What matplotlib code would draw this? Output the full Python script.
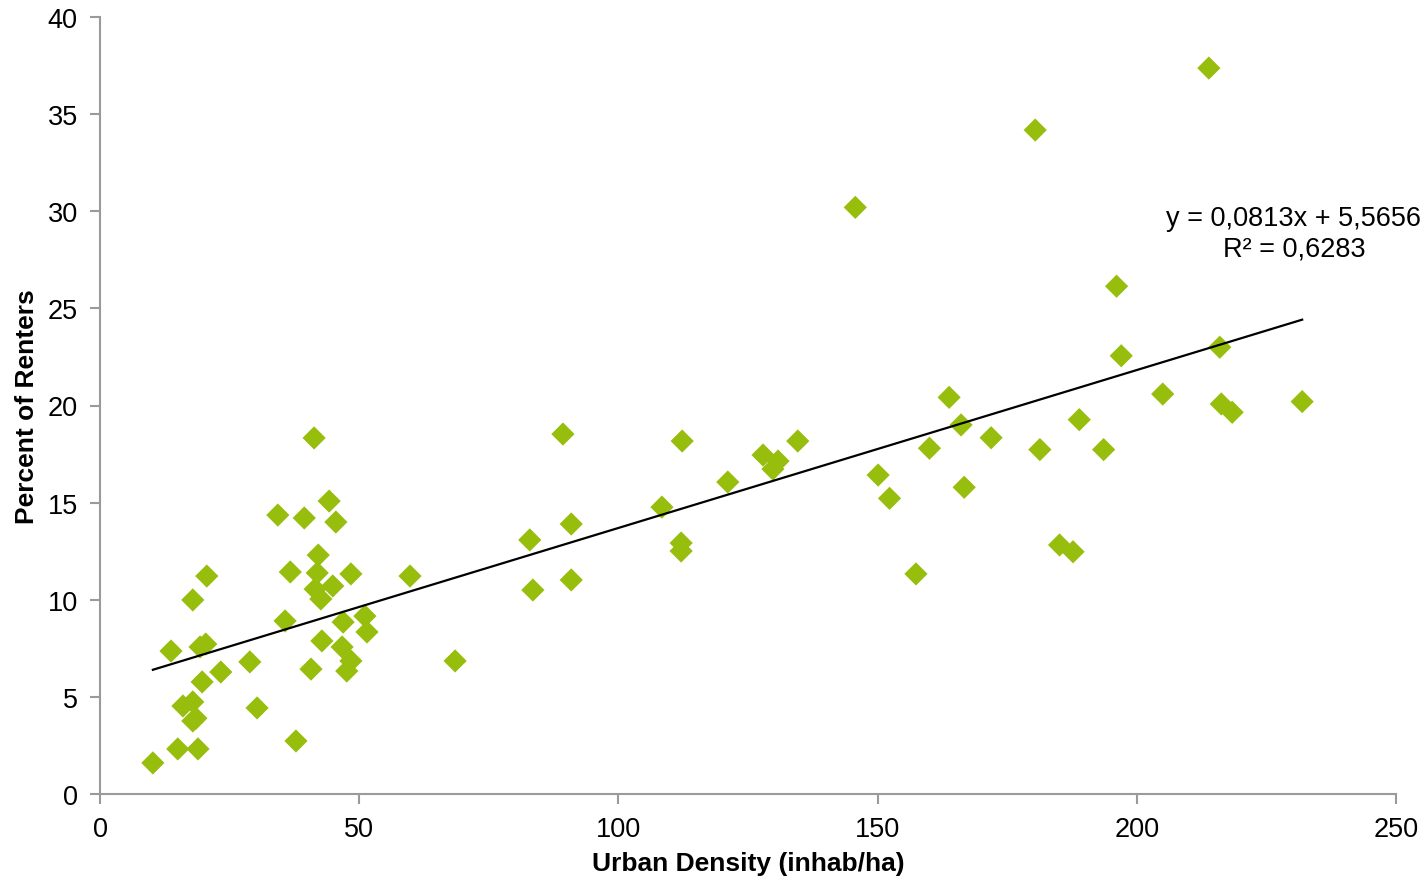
import matplotlib
matplotlib.use("Agg")
import matplotlib.pyplot as plt
import numpy as np

plt.rcParams['font.family'] = ['Liberation Sans', 'DejaVu Sans']

density = [10.2, 13.7, 15.0, 18.9, 16.0, 17.9, 17.9, 18.5, 17.9, 20.6, 19.7, 23.3,
           19.3, 20.4, 28.9, 30.3, 37.8, 35.7, 34.3, 39.4, 41.3, 44.2, 45.5, 42.1,
           36.7, 41.9, 48.4, 41.5, 44.9, 42.6, 46.9, 51.1, 51.5, 42.8, 46.7, 48.4,
           47.6, 40.7,
           59.8, 68.5, 82.9, 83.5, 89.3, 90.9, 90.9, 108.4, 112.3, 112.1, 112.1,
           121.1, 127.9, 130.8, 129.8, 134.6,
           145.7, 150.1, 152.3, 157.4, 160.0, 163.8, 166.1, 166.7, 171.9, 181.3,
           185.1, 187.7, 188.9, 193.6, 196.1, 197.0, 205.0, 216.0, 216.3, 218.4,
           231.9, 180.4, 213.9]
renters = [1.60, 7.36, 2.32, 2.32, 4.53, 4.74, 3.76, 3.90, 9.99, 11.22, 5.77, 6.28,
           7.57, 7.72, 6.80, 4.43, 2.73, 8.91, 14.36, 14.21, 18.33, 15.08, 14.00, 12.30,
           11.43, 11.38, 11.33, 10.55, 10.71, 10.04, 8.85, 9.16, 8.34, 7.88, 7.57, 6.85,
           6.33, 6.43,
           11.22, 6.85, 13.08, 10.50, 18.53, 13.90, 11.02, 14.77, 18.17, 12.92, 12.51,
           16.06, 17.45, 17.14, 16.73, 18.17,
           30.20, 16.42, 15.22, 11.33, 17.80, 20.42, 19.00, 15.79, 18.34, 17.73,
           12.82, 12.47, 19.27, 17.73, 26.14, 22.56, 20.59, 23.00, 20.08, 19.65,
           20.20, 34.18, 37.37]

slope = 0.0813
intercept = 5.5656
r2_label = "R² = 0,6283"
eq_label = "y = 0,0813x + 5,5656"

fig = plt.figure(figsize=(14.24, 8.79), dpi=100)
ax = fig.add_axes([100/1424, 1 - 795/879, (1396-100)/1424, (795-18)/879])

ax.scatter(density, renters, marker='D', s=140, color='#97BE0D', edgecolors='none', zorder=3)

xmin, xmax = min(density), max(density)
xs = np.array([xmin, xmax])
ax.plot(xs, slope * xs + intercept, color='black', lw=1.6, zorder=4)

ax.text(230.3, 30.3, eq_label + "\n" + r2_label, fontsize=19.5, ha='center', va='top',
        linespacing=1.2, zorder=5)

ax.set_xlim(0, 250)
ax.set_ylim(0, 40)
ax.set_xticks(np.arange(0, 251, 50))
ax.set_yticks(np.arange(0, 41, 5))

for s in ['top', 'right']:
    ax.spines[s].set_visible(False)
for s in ['left', 'bottom']:
    ax.spines[s].set_color('#9a9a9a')
    ax.spines[s].set_linewidth(1.5)

ax.tick_params(axis='both', direction='out', length=7, width=1.5, color='#9a9a9a',
               labelsize=19.5, labelcolor='black', pad=9)

ax.set_xlabel("Urban Density (inhab/ha)", fontsize=19, fontweight='bold', labelpad=6)
ax.set_ylabel("Percent of Renters", fontsize=19, fontweight='bold', labelpad=6)

fig.savefig("out.png", dpi=100)
